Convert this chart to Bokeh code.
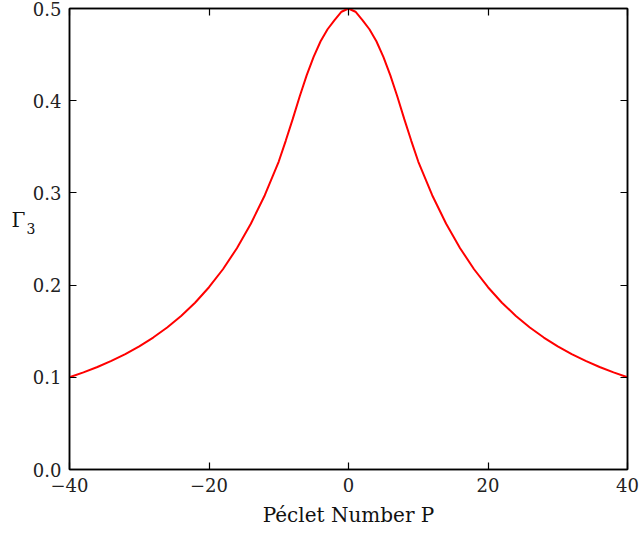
from bokeh.plotting import figure
from bokeh.models import Range1d, LinearAxis, FixedTicker, ColumnDataSource, Label
from bokeh.embed import file_html
from bokeh.resources import INLINE

# Data
peclet = [-40, -38, -36, -34, -32, -30, -28, -26, -24, -22, -20, -18, -16, -14, -12, -10,
          -9, -8, -7, -6, -5, -4, -3, -2, -1, 0, 1, 2, 3, 4, 5, 6, 7, 8, 9,
          10, 12, 14, 16, 18, 20, 22, 24, 26, 28, 30, 32, 34, 36, 38, 40]
gamma3 = [0.100, 0.1053, 0.1112, 0.1178, 0.1252, 0.1336, 0.1431, 0.1540, 0.1665, 0.1809, 0.1977, 0.2172, 0.2400, 0.2665, 0.2975, 0.334,
          0.3565, 0.380, 0.4045, 0.4275, 0.4475, 0.4645, 0.4775, 0.4875, 0.4965, 0.500, 0.4965, 0.4875, 0.4775, 0.4645, 0.4475, 0.4275, 0.4045, 0.380, 0.3565,
          0.334, 0.2975, 0.2665, 0.2400, 0.2172, 0.1977, 0.1809, 0.1665, 0.1540, 0.1431, 0.1336, 0.1252, 0.1178, 0.1112, 0.1053, 0.100]

x_ticks = [-40, -20, 0, 20, 40]
x_tick_labels = ["\u221240", "\u221220", "0", "20", "40"]
y_ticks = [0.0, 0.1, 0.2, 0.3, 0.4, 0.5]
y_tick_labels = ["0.0", "0.1", "0.2", "0.3", "0.4", "0.5"]

FONT = "DejaVu Serif"

p = figure(width=639, height=535, output_backend="svg", toolbar_location=None,
           x_range=Range1d(-40, 40), y_range=Range1d(0, 0.5),
           min_border_left=69, min_border_right=12, min_border_top=8, min_border_bottom=66)
p.xgrid.visible = False
p.ygrid.visible = False
p.outline_line_color = "black"
p.outline_line_width = 1.5
p.background_fill_color = "white"
p.border_fill_color = "white"

src = ColumnDataSource(dict(x=peclet, y=gamma3))
p.line("x", "y", source=src, line_color="#ff0000", line_width=2)


def style_axis(ax, ticks, labels, show_labels=True):
    ax.ticker = FixedTicker(ticks=ticks)
    ax.major_tick_in = 7
    ax.major_tick_out = 0
    ax.minor_tick_in = 0
    ax.minor_tick_out = 0
    ax.axis_line_color = "black"
    ax.axis_line_width = 1.5
    ax.major_tick_line_color = "black"
    ax.major_tick_line_width = 1.2
    if show_labels:
        ax.major_label_overrides = {t: l for t, l in zip(ticks, labels)}
        ax.major_label_text_font = FONT
        ax.major_label_text_font_size = "18px"
        ax.major_label_text_color = "#222222"
    else:
        ax.major_label_text_color = None
        ax.major_label_standoff = 0


xa = p.xaxis[0]
style_axis(xa, x_ticks, x_tick_labels)
xa.major_label_standoff = 8
xa.axis_label = "Péclet Number P"
xa.axis_label_text_font = FONT
xa.axis_label_text_font_size = "20px"
xa.axis_label_text_font_style = "normal"
xa.axis_label_text_color = "#111111"
xa.axis_label_standoff = 8

ya = p.yaxis[0]
style_axis(ya, y_ticks, y_tick_labels)
ya.major_label_standoff = 8

# y-axis label Γ with subscript 3, placed in the left side panel (screen units)
p.add_layout(Label(x=-4, y=250, x_units="screen", y_units="screen", text="\u0393",
                   text_font=FONT, text_font_size="20px", text_color="#111111",
                   text_baseline="alphabetic", text_align="left"), "left")
p.add_layout(Label(x=20, y=241, x_units="screen", y_units="screen", text="3",
                   text_font=FONT, text_font_size="14px", text_color="#111111",
                   text_baseline="alphabetic", text_align="left"), "left")

top = LinearAxis()
style_axis(top, x_ticks, x_tick_labels, show_labels=False)
p.add_layout(top, "above")
right = LinearAxis()
style_axis(right, y_ticks, y_tick_labels, show_labels=False)
p.add_layout(right, "right")

open("out.html", "w").write(file_html(p, INLINE))
